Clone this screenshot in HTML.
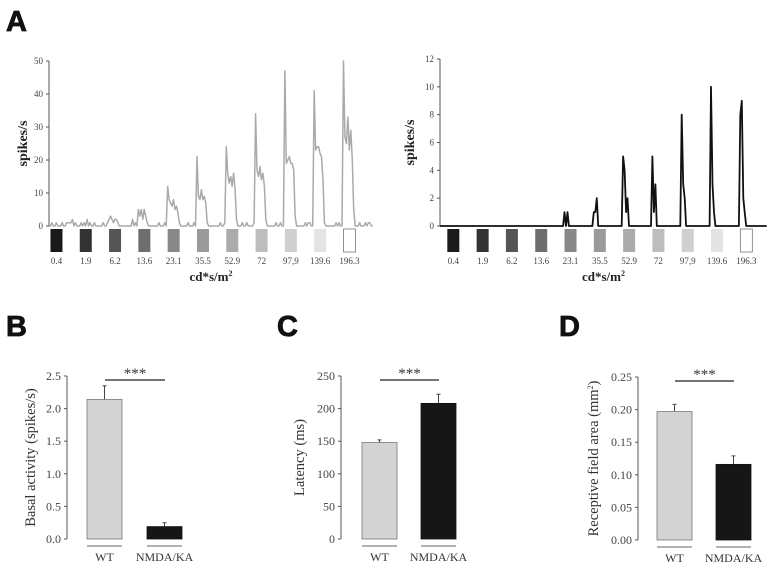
<!DOCTYPE html>
<html><head><meta charset="utf-8">
<style>
html,body{margin:0;padding:0;background:#fff;}
svg{display:block;font-family:"Liberation Serif",serif;}
.pl{font-family:"Liberation Sans",sans-serif;font-weight:bold;font-size:29px;fill:#111;stroke:#111;stroke-width:0.8;}
.tk{font-size:9px;fill:#444;}
.bt{fill:#333;}
</style></head>
<body>
<svg id="fig" width="774" height="572" viewBox="0 0 774 572" xmlns="http://www.w3.org/2000/svg">
<text class="pl" x="6" y="31">A</text>
<text class="pl" x="6" y="336">B</text>
<text class="pl" x="277" y="336">C</text>
<text class="pl" x="559" y="336">D</text>
</svg>
<script>
// ---- data ----
const intensities = ["0.4","1.9","6.2","13.6","23.1","35.5","52.9","72","97,9","139.6","196.3"];
const squareColors = ["#1a1a1a","#333333","#555555","#6e6e6e","#888888","#9a9a9a","#ababab","#bdbdbd","#cfcfcf","#e4e4e4","#ffffff"];
const leftTicks = [0,10,20,30,40,50];
const rightTicks = [0,2,4,6,8,10,12];
const leftNoise = [[2,1],[5,1],[9,1],[12,1],[13,1],[14,1],[15,1],[16,2],[18,1],[22,1],[24,1],[26,2],[28,1],[31,1],[37,1],[40,1],[57,2],[59,1],[62,1],[75,1],[79,1],[95,1],[99,1],[101,1],[103,1],[117,1],[120,1],[132,1],[135,1],[140,1],[143,1],[155,1],[158,1],[162,1],[164,1],[175,1],[177,1],[178,1],[181,1],[183,1],[196,1],[198,1],[212,1],[216,1],[218,1],[219,1]];
const leftResp = [[],[],[2,3,2,1,2,2,1],[5,3,5,2,5,3,1],[12,8,7,6,8,5,6,4,1],[21,9,8,11,8,9,7,1],[24,16,13,15,12,16,11,2],[34,17,15,18,14,16,12,2],[47,19,20,21,19,19,17,3],[41,23,24,24,22,21,14,1],[50,27,25,33,23,29,20,5]];
const rightResp = [[],[],[],[],[1,0,1,0],[1,1,2,0],[5,4,1,2,0],[5,1,3,0],[8,3,2,0],[10,3,1,0],[8,9,2,1,0]];
const groups = ["WT","NMDA/KA"];
const basalVals = [2.14,0.19], basalErr = [0.21,0.06];
const latencyVals = [148,208], latencyErr = [4,14];
const rfVals = [0.197,0.116], rfErr = [0.011,0.013];
const basalTicks = ["0.0","0.5","1.0","1.5","2.0","2.5"];
const latencyTicks = ["0","50","100","150","200","250"];
const rfTicks = ["0.00","0.05","0.10","0.15","0.20","0.25"];

const svg = document.getElementById('fig');
const NS = "http://www.w3.org/2000/svg";
function mk(tag, attrs, txt){const e=document.createElementNS(NS,tag);for(const k in attrs)e.setAttribute(k,attrs[k]);if(txt!==undefined)e.textContent=txt;svg.appendChild(e);return e;}

function trace(cfg){
  const {x0,x1,y0,yTop,yMax,ticks,resp,noise,offset,nBins,color,sw,name} = cfg;
  const ys = v => y0 - v/yMax*(y0-yTop);
  const xs = b => x0 + b*1.465;
  let ax = mk('line',{x1:x0,y1:yTop,x2:x0,y2:y0,stroke:'#555','stroke-width':1});
  
  
  ticks.forEach(t=>{
    let tl = mk('line',{x1:x0-3,y1:ys(t),x2:x0,y2:ys(t),stroke:'#555','stroke-width':1});
    
    
    let tx = mk('text',{x:x0-6,y:ys(t)+3,'text-anchor':'end',class:'tk'},String(t));
    
    
  });
  const vals = new Array(nBins).fill(0);
  noise.forEach(([b,v])=>{vals[b]=v;});
  resp.forEach((arr,i)=>{arr.forEach((v,j)=>{vals[offset+20*i+j]=v;});});
  let d='';
  vals.forEach((v,b)=>{d+=(b?'L':'M')+xs(b).toFixed(1)+','+ys(v).toFixed(1);});
  let p = mk('path',{d:d,fill:'none',stroke:color,'stroke-width':sw,'stroke-linejoin':'round'});
  
  
  intensities.forEach((lab,i)=>{
    const cx = xs(offset+20*i)+ (cfg.sqShift);
    let r = mk('rect',{x:cx-6,y:229,width:12,height:23,fill:squareColors[i],stroke:i==10?'#777':'none','stroke-width':0.8});
    
    
    let t = mk('text',{x:cx,y:264,'text-anchor':'middle',class:'tk'},lab);
    
    
  });
  let xt = mk('text',{x:(x0+x1)/2,y:281,'text-anchor':'middle','font-size':'13','font-weight':'bold',fill:'#222'});
  xt.innerHTML='cd*s/m<tspan font-size="8" dy="-5">2</tspan>';
  
  
  const yc=(y0+yTop)/2;
  let yt = mk('text',{x:cfg.titleX,y:yc,'text-anchor':'middle','font-size':'14','font-weight':'bold',fill:'#222',transform:`rotate(-90 ${cfg.titleX} ${yc})`},'spikes/s');
  
  
}
trace({x0:49,x1:373,y0:226,yTop:61,yMax:50,ticks:leftTicks,resp:leftResp,noise:leftNoise,offset:1,nBins:222,color:'#aaaaaa',sw:1.5,name:'wt-psth',titleX:27,sqShift:6});
trace({x0:440,x1:767,y0:226,yTop:59,yMax:12,ticks:rightTicks,resp:rightResp,noise:[],offset:5,nBins:224,color:'#111',sw:1.8,name:'nmda-psth',titleX:414,sqShift:6});

function bars(cfg){
  const {ax,y0,yTop,yMax,vals,errs,ticks,bx,name,title,titleX} = cfg;
  const ys = v => y0 - v/yMax*(y0-yTop);
  let a = mk('line',{x1:ax,y1:yTop,x2:ax,y2:y0,stroke:'#555','stroke-width':1});
  
  
  ticks.forEach((t,i)=>{
    const y = y0 - i/(ticks.length-1)*(y0-yTop);
    let tl = mk('line',{x1:ax-3,y1:y,x2:ax,y2:y,stroke:'#555'});
    
    
    let tx = mk('text',{x:ax-6,y:y+4,'text-anchor':'end','font-size':'12',fill:'#444'},t);
    
    
  });
  vals.forEach((v,i)=>{
    const x = bx[i];
    let e = mk('line',{x1:x+17.5,y1:ys(v),x2:x+17.5,y2:ys(v+errs[i]),stroke:'#444','stroke-width':1});
    
    
    let c = mk('line',{x1:x+15.5,y1:ys(v+errs[i]),x2:x+19.5,y2:ys(v+errs[i]),stroke:'#444'});
    
    
    let r = mk('rect',{x:x,y:ys(v),width:35,height:y0-ys(v),fill:i?'#161616':'#d3d3d3',stroke:i?'#111':'#777','stroke-width':0.8});
    
    
    let u = mk('line',{x1:x,y1:y0+7,x2:x+35,y2:y0+7,stroke:'#666'});
    
    
    let l = mk('text',{x:x+17.5,y:y0+22,'text-anchor':'middle',class:'bt','font-size':'12'},groups[i]);
    
    
  });
  let s = mk('line',{x1:bx[0]+18,y1:yTop+4,x2:bx[1]+18,y2:yTop+4,stroke:'#222','stroke-width':1.3});
  
  
  let st = mk('text',{x:(bx[0]+bx[1])/2+18,y:yTop+2,'text-anchor':'middle','font-size':'15',fill:'#333'},'***');
  
  
  const yc=(y0+yTop)/2;
  let yt = mk('text',{x:titleX,y:yc,'text-anchor':'middle',class:'bt','font-size':'14.5',transform:`rotate(-90 ${titleX} ${yc})`});
  yt.innerHTML = title;
  
  
}
bars({ax:67,y0:539,yTop:376,yMax:2.5,vals:basalVals,errs:basalErr,ticks:basalTicks,bx:[87,147],name:'basal-activity',title:'Basal activity (spikes/s)',titleX:35});
bars({ax:341,y0:539,yTop:376,yMax:250,vals:latencyVals,errs:latencyErr,ticks:latencyTicks,bx:[362,421],name:'latency',title:'Latency (ms)',titleX:304});
bars({ax:638,y0:540,yTop:377,yMax:0.25,vals:rfVals,errs:rfErr,ticks:rfTicks,bx:[657,716],name:'receptive-field',title:'Receptive field area (mm<tspan font-size="8" dy="-5">2</tspan><tspan dy="5">)</tspan>',titleX:598});
</script>
</body></html>
